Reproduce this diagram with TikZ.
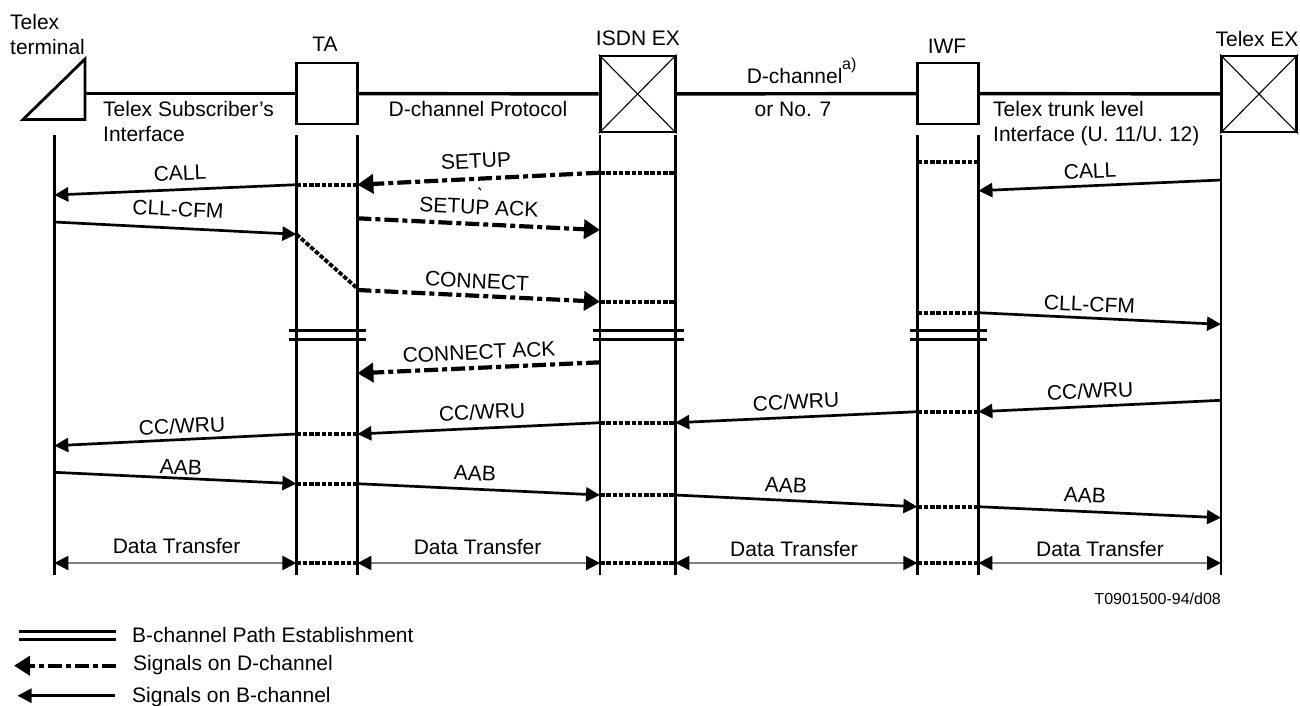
\documentclass[tikz,border=0pt]{standalone}
\usepackage{fontspec}
\setmainfont{Liberation Sans}
\usetikzlibrary{arrows.meta}
\tikzset{
	diagram/.style={
		x=1pt,
		y=-1pt,
		font=\fontsize{21}{25}\selectfont
	},
	lab/.style={
		inner sep=0pt,
		text height=15pt,
		text depth=0pt
	},
	smalllab/.style={
		lab,
		font=\fontsize{16}{19}\selectfont,
		text height=11.5pt
	},
	tabox/.style={
		draw,
		line width=2.8pt,
		minimum width=61pt,
		minimum height=61pt,
		inner sep=0pt
	},
	exbox/.style={
		draw,
		line width=2.8pt,
		minimum width=75pt,
		minimum height=76pt,
		inner sep=0pt
	},
	link/.style={line width=3.4pt},
	lifeline/.style={line width=2.9pt},
	bline/.style={line width=3pt},
	dotline/.style={line width=3.8pt,dash pattern=on 4.5pt off 1.8pt},
	bsig/.style={
		line width=2.7pt,
		-{Triangle[length=14pt,width=14pt]}
	},
	dsig/.style={
		line width=4.2pt,
		dash pattern=on 14pt off 4pt on 5pt off 4pt,
		-{Triangle[length=16pt,width=19pt]}
	},
	datasig/.style={
		draw=gray,
		line width=2.2pt,
		{Triangle[black,length=14pt,width=14pt]}-{Triangle[black,length=14pt,width=14pt]}
	}
}
\begin{document}
\begin{tikzpicture}[diagram]
	\useasboundingbox (0,0) rectangle (1300,705);

	\foreach \lev/\y in {1/161.7,2/172.7,3/180,4/184.7,5/190.7,6/195,7/218.3,8/222,
		9/230,10/234.3,11/288.5,12/290,13/301.7,14/312.7,15/324.3,16/330.7,17/339.3,
		18/362.3,19/373.3,20/400.3,21/411.7,22/422.7,23/434,24/445.7,25/472.3,
		26/483.7,27/495,28/506.7,29/517.7,30/563,31/135,32/574.7}
		\foreach \lif/\x in {tm/54.3,tal/296.4,tar/357.4,isl/600,isr/675.3,iwl/917.4,iwr/978.4,tx/1221}
			\coordinate (\lif-\lev) at (\x,\y);

	\node[tabox] (ta) at (326.9,93.5) {};
	\node[tabox] (iwf) at (947.9,93.5) {};
	\node[exbox] (isdn) at (637.6,94) {};
	\node[exbox] (txex) at (1259,94) {};
	\foreach \ex in {isdn,txex} {
		\draw[line width=1.1pt] (\ex.north west) -- (\ex.south east);
		\draw[line width=1.1pt] (\ex.north east) -- (\ex.south west);
	}

	\coordinate (termtop) at (85,59);
	\coordinate (termright) at (85,119.5);
	\coordinate (termleft) at (23,119.5);
	\coordinate (termport) at (85,93.5);
	\draw[line width=2.8pt,line join=miter] (termtop) -- (termright) -- (termleft) -- cycle;

	\draw[link] (termport) -- (ta);
	\draw[link] (ta) -- (isdn);
	\draw[link] (isdn) -- (iwf);
	\draw[link] (iwf) -- (txex);

	\foreach \lif in {tm,tal,tar,isl,isr,iwl,iwr,tx}
		\draw[lifeline] (\lif-31) -- (\lif-32);

	\foreach \lev in {16,17} {
		\draw[bline] ([xshift=-7.5pt]tal-\lev) -- ([xshift=8.5pt]tar-\lev);
		\draw[bline] ([xshift=-7pt]isl-\lev) -- ([xshift=8.5pt]isr-\lev);
		\draw[bline] ([xshift=-7.5pt]iwl-\lev) -- ([xshift=8.5pt]iwr-\lev);
	}

	\foreach \a/\b/\lev in {iwl/iwr/1,isl/isr/2,tal/tar/4,isl/isr/13,iwl/iwr/14,iwl/iwr/21,
		isl/isr/22,tal/tar/23,tal/tar/26,isl/isr/27,iwl/iwr/28,tal/tar/30,isl/isr/30,iwl/iwr/30}
		\draw[dotline] (\a-\lev) -- (\b-\lev);
	\draw[dotline] (tal-10) -- (tar-11);

	\foreach \from/\to in {tal-4/tm-6,tm-8/tal-10,tx-3/iwr-5,iwr-14/tx-15,tx-20/iwr-21,
		iwl-21/isr-22,isl-22/tar-23,tal-23/tm-24,tm-25/tal-26,tar-26/isl-27,isr-27/iwl-28,iwr-28/tx-29}
		\draw[bsig] (\from) -- (\to);

	\foreach \from/\to in {isl-2/tar-4,tar-7/isl-9,tar-12/isl-13,isl-18/tar-19}
		\draw[dsig] (\from) -- (\to);

	\foreach \from/\to in {tm/tal,tar/isl,isr/iwl,iwr/tx}
		\draw[datasig] (\from-30) -- (\to-30);

	\coordinate (ticka) at (478.5,187.5);
	\coordinate (tickb) at (481,190);
	\draw[line width=1.3pt] (ticka) -- (tickb);

	\foreach \name/\txt/\x/\y/\rot in {
		callta/CALL/180/173/2.4,
		setup/SETUP/476/160.7/2.8,
		cfmta/CLL-CFM/178/209/-2.9,
		setupack/SETUP ACK/479/207/-2.8,
		connect/CONNECT/477/281/-2.8,
		connectack/CONNECT ACK/479/352/2.6,
		callex/CALL/1090/171/2.5,
		cfmex/CLL-CFM/1089.5/304/-2.7,
		wrua/{CC/WRU}/182/426/2.7,
		wrub/{CC/WRU}/482/412/2.7,
		wruc/{CC/WRU}/796/401.7/2.6,
		wrud/{CC/WRU}/1090/391/2.7,
		aaba/AAB/181/467/-2.7,
		aabb/AAB/475/473/-2.7,
		aabc/AAB/786/485/-2.7,
		aabd/AAB/1085/495/-2.6,
		dataa/Data Transfer/176.6/545.7/0,
		datab/Data Transfer/477.6/547/0,
		datac/Data Transfer/794/548.7/0,
		datad/Data Transfer/1100/548.7/0,
		talab/TA/325/44/0,
		isdnlab/ISDN EX/638/38/0,
		iwflab/IWF/947/46/0,
		txlab/Telex EX/1257/39/0,
		dprot/D-channel Protocol/478/109/0}
		\node[lab,rotate=\rot] (\name) at (\x,\y) {\txt};

	\foreach \name/\txt/\x/\y in {
		terma/Telex/10/22,
		termb/terminal/10/47,
		subsa/Telex Subscriber's/103/109,
		subsb/Interface/103/134,
		dchan/D-channel/746.6/76,
		orno/or No. 7/754.5/109,
		trunka/Telex trunk level/993/109,
		trunkb/{Interface (U. 11/U. 12)}/993/134,
		keyb/B-channel Path Establishment/132/635,
		keyd/Signals on D-channel/133/663,
		keys/Signals on B-channel/132/695}
		\node[lab,anchor=west] (\name) at (\x,\y) {\txt};

	\node[smalllab,anchor=west] (dnote) at (842,64) {a)};
	\node[smalllab,anchor=east] (figid) at (1221,599) {T0901500-94/d08};

	\coordinate (keyba) at (19,631);
	\coordinate (keybb) at (116,631);
	\coordinate (keyca) at (19,639);
	\coordinate (keycb) at (116,639);
	\coordinate (keyda) at (116,665.7);
	\coordinate (keydb) at (14,665.7);
	\coordinate (keysa) at (115,695.7);
	\coordinate (keysb) at (17.5,695.7);
	\draw[bline] (keyba) -- (keybb);
	\draw[bline] (keyca) -- (keycb);
	\draw[dsig] (keyda) -- (keydb);
	\draw[bsig] (keysa) -- (keysb);
\end{tikzpicture}
\end{document}
